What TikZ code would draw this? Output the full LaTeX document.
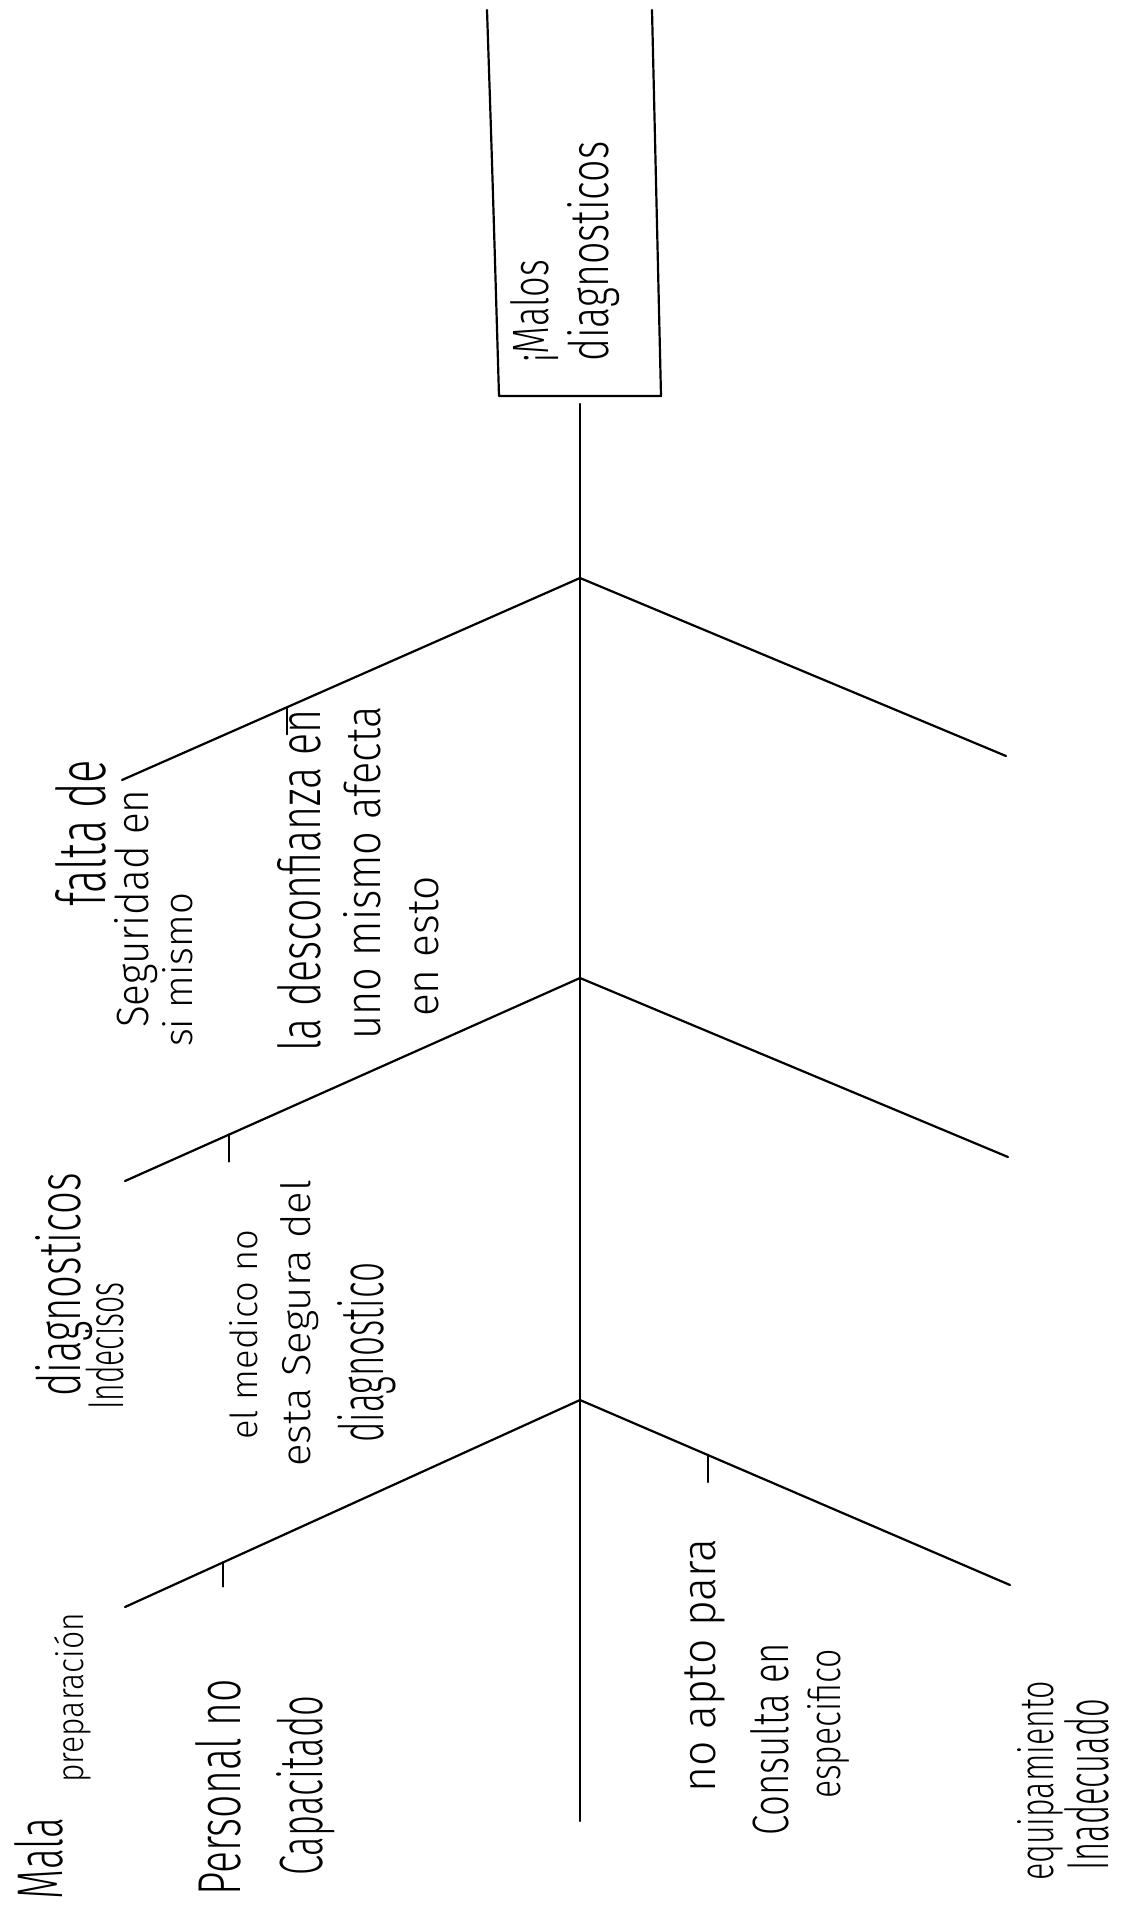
\documentclass[tikz,border=0pt]{standalone}
\usepackage{fontspec}
\setmainfont{Fira Sans Light}
\usetikzlibrary{calc}
% #1 length along the line, #2 height of the ascenders, #3 text
\newcommand\hw[3]{\resizebox{#1pt}{#2pt}{\vphantom{d}#3}}
\begin{document}
\begin{tikzpicture}[x=1pt,y=-1pt,
  ln/.style={line width=2.2pt, line cap=round, line join=round},
  lbl/.style={rotate=90, anchor=base west, inner sep=0pt}]
\useasboundingbox[fill=white] (0,0) rectangle (1123,1906);
% head box
\coordinate (bTL) at (487,10);
\coordinate (bBL) at (499,396);
\coordinate (bBR) at (661,396);
\coordinate (bTR) at (652,10);
\draw[ln] (bTL) .. controls (492,160) .. (bBL) -- (bBR) -- (bTR);
% spine and joints
\coordinate (head) at (580,404);
\coordinate (tail) at (580,1821);
\coordinate (j1) at (580,578);
\coordinate (j2) at (580,978);
\coordinate (j3) at (580,1400);
\coordinate (l1) at (122,780);
\coordinate (r1) at (1006,756);
\coordinate (l2) at (125,1181);
\coordinate (r2) at (1008,1157);
\coordinate (l3) at (125,1607);
\coordinate (r3) at (1010,1585);
\draw[ln] (head) -- (tail);
\draw[ln] (l1) -- (j1) -- (r1);
\draw[ln] (l2) -- (j2) -- (r2);
\draw[ln] (l3) -- (j3) -- (r3);
% ticks
\coordinate (t1) at ($(l1)!0.36!(j1)$);
\coordinate (t2) at ($(l2)!0.229!(j2)$);
\coordinate (t3) at ($(l3)!0.215!(j3)$);
\coordinate (t4) at ($(j3)!0.298!(r3)$);
\draw[ln] (t1) -- ++(0,27);
\draw[ln] (t2) -- ++(0,27);
\draw[ln] (t3) -- ++(0,24);
\draw[ln] (t4) -- ++(0,27);
% head text
\node[lbl] (h1) at (548,363) {\hw{103}{38}{¡Malos}};
\node[lbl] (h2) at (608,362) {\hw{220}{41}{diagnosticos}};
% top branch texts
\node[lbl] (a1) at (105,907) {\hw{147}{50}{falta de}};
\node[lbl] (a2) at (148,1028) {\hw{238}{34}{Seguridad en}};
\node[lbl] (a3) at (192,1047) {\hw{154}{30}{si mismo}};
\node[lbl] (a4) at (320,1052) {\hw{342}{43}{la desconfianza en}};
\node[lbl] (a5) at (380,1040) {\hw{333}{37}{uno mismo afecta}};
\node[lbl] (a6) at (438,1017) {\hw{140}{33}{en esto}};
% middle branch texts
\node[lbl] (b1) at (80,1397) {\hw{224}{45}{diagnosticos}};
\node[lbl] (b2) at (123,1410) {\hw{127}{38}{Indecisos}};
\node[lbl] (b3) at (257,1440) {\hw{210}{28}{el medico no}};
\node[lbl] (b4) at (310,1467) {\hw{287}{30}{esta Segura del}};
\node[lbl] (b5) at (383,1443) {\hw{180}{46}{diagnostico}};
% bottom branch texts
\node[lbl] (c1a) at (62,1900) {\hw{82}{48}{Mala}};
\node[lbl] (c1b) at (83,1783) {\hw{170}{29}{preparación}};
\node[lbl] (c2) at (240,1896) {\hw{217}{45}{Personal no}};
\node[lbl] (c3) at (322,1876) {\hw{180}{46}{Capacitado}};
\node[lbl] (c4) at (715,1793) {\hw{254}{35}{no apto para}};
\node[lbl] (c5) at (788,1836) {\hw{193}{38}{Consulta en}};
\node[lbl] (c6) at (840,1799) {\hw{150}{33}{especifico}};
\node[lbl] (c7) at (1053,1881) {\hw{200}{36}{equipamiento}};
\node[lbl] (c8) at (1108,1871) {\hw{172}{44}{Inadecuado}};
\end{tikzpicture}
\end{document}
